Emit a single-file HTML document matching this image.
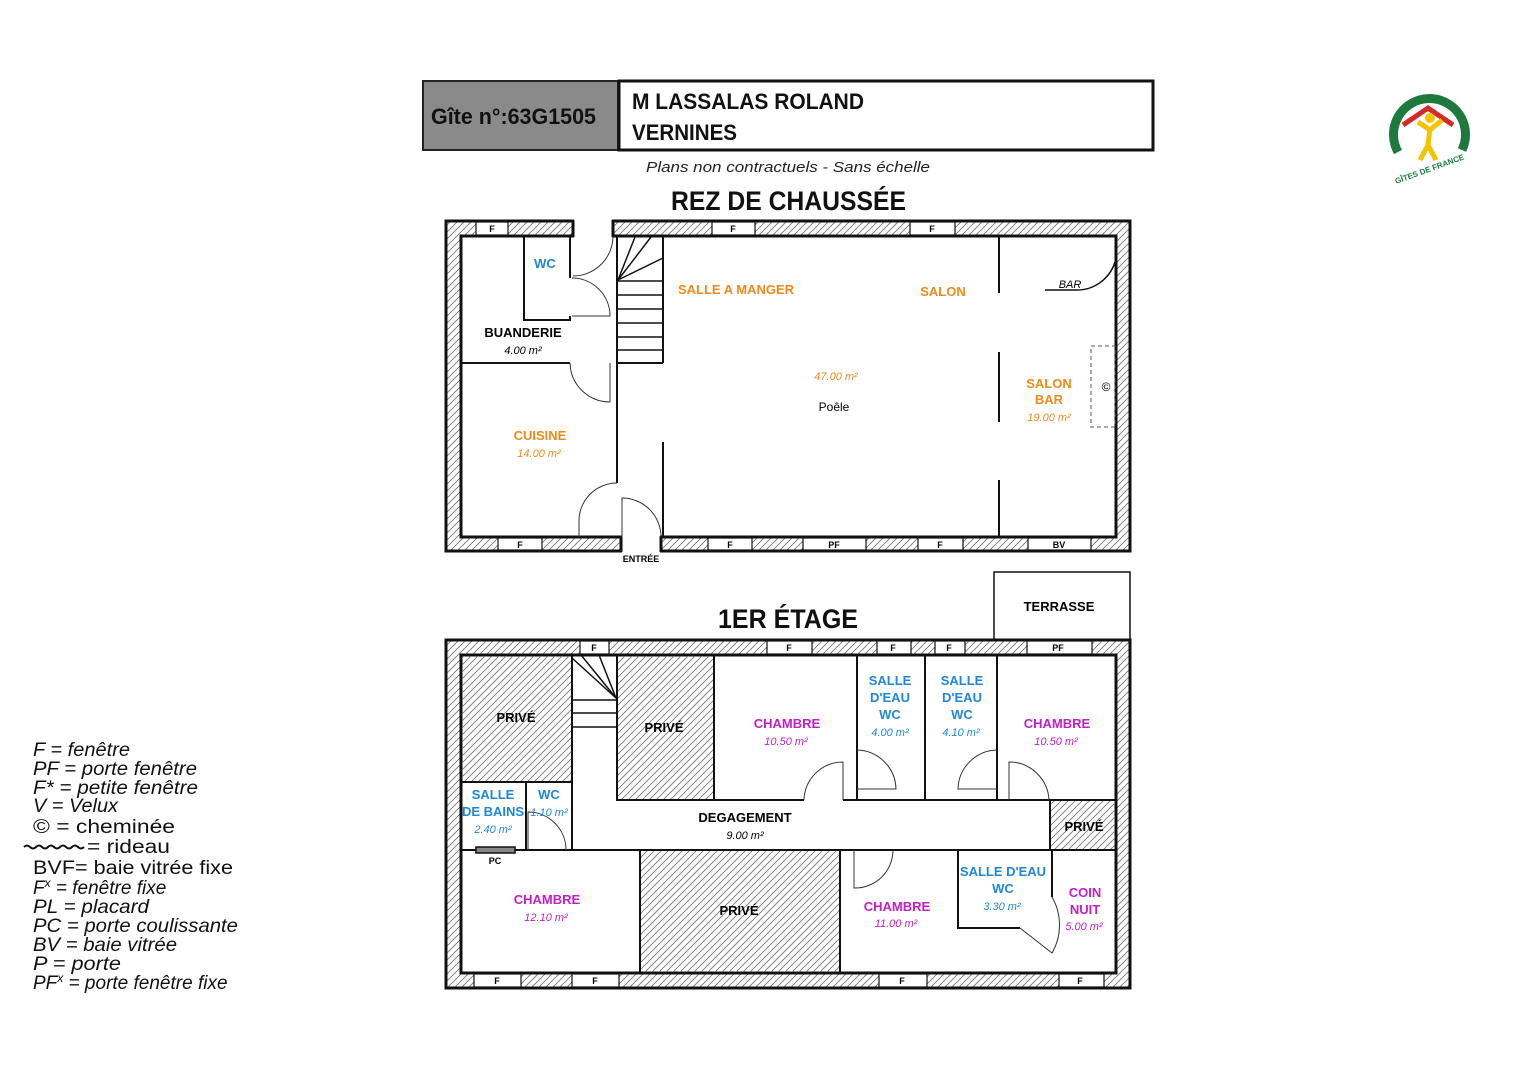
<!DOCTYPE html>
<html><head><meta charset="utf-8"><style>
html,body{margin:0;padding:0;background:#fff;}
svg{display:block;font-family:"Liberation Sans",sans-serif;}
.l{font-weight:bold;font-size:13px;text-anchor:middle;}
.a{font-size:11px;text-anchor:middle;font-style:italic;}
.w{font-size:9px;font-weight:bold;text-anchor:middle;}
.o{fill:#ee8a1c}.b{fill:#1f87d6}.m{fill:#c21fc9}
.ln{stroke:#111;stroke-width:2;fill:none}
.dr{stroke:#333;stroke-width:1;fill:none}
</style></head><body>
<svg width="1528" height="1080" viewBox="0 0 1528 1080" xmlns="http://www.w3.org/2000/svg">
<defs>
<pattern id="h" patternUnits="userSpaceOnUse" width="7" height="7"><path d="M-1,8 L8,-1 M-1,1 L1,-1 M6,8 L8,6" stroke="#777" stroke-width="0.9"/></pattern>
</defs>
<rect width="1528" height="1080" fill="#fff"/>

<!-- header -->
<rect x="423" y="81" width="195" height="69" fill="#8a8a8a" stroke="#222" stroke-width="2"/>
<text x="431" y="124" font-size="22" font-weight="bold" fill="#111" textLength="165" lengthAdjust="spacingAndGlyphs">Gîte n°:63G1505</text>
<rect x="619" y="81" width="534" height="69" fill="#fff" stroke="#111" stroke-width="3"/>
<text x="632" y="109" font-size="22" font-weight="bold" fill="#111" textLength="232" lengthAdjust="spacingAndGlyphs">M LASSALAS ROLAND</text>
<text x="632" y="140" font-size="22" font-weight="bold" fill="#111" textLength="105" lengthAdjust="spacingAndGlyphs">VERNINES</text>
<text x="646" y="172" font-size="15" font-style="italic" fill="#222" textLength="284" lengthAdjust="spacingAndGlyphs">Plans non contractuels - Sans échelle</text>
<text x="671" y="210" font-size="27" font-weight="bold" fill="#111" textLength="235" lengthAdjust="spacingAndGlyphs">REZ DE CHAUSSÉE</text>
<text x="718" y="628" font-size="27" font-weight="bold" fill="#111" textLength="140" lengthAdjust="spacingAndGlyphs">1ER ÉTAGE</text>

<!-- logo -->
<g>
<path d="M1398,152 A36,36 0 1 1 1462,150" stroke="#1d7a3c" stroke-width="9" fill="none"/>
<path d="M1403,125 L1428,108 L1453,125" stroke="#d62a2a" stroke-width="5" fill="none"/>
<circle cx="1430" cy="118" r="5" fill="#f2c400"/>
<path d="M1418,122 L1430,130 L1442,120 M1430,128 L1428,145 L1420,160 M1428,145 L1436,160" stroke="#f2c400" stroke-width="5" fill="none"/>
<text x="1428" y="172" font-size="8" font-weight="bold" fill="#1d7a3c" text-anchor="middle" transform="rotate(-20 1428 165)">GÎTES DE FRANCE</text>
</g>

<!-- ============ REZ DE CHAUSSEE ============ -->
<path d="M446,221 H1130 V551 H446 Z M461,236 V537 H1116 V236 Z" fill="url(#h)" fill-rule="evenodd"/>
<rect x="446" y="221" width="684" height="330" fill="none" stroke="#111" stroke-width="3"/>
<rect x="461" y="236" width="655" height="301" fill="none" stroke="#111" stroke-width="3"/>
<g stroke="#111" stroke-width="1.2" fill="#fff">
<rect x="476" y="222" width="32" height="13"/>
<rect x="712" y="222" width="43" height="13"/>
<rect x="910" y="222" width="45" height="13"/>
<rect x="498" y="538" width="44" height="12"/>
<rect x="708" y="538" width="44" height="12"/>
<rect x="803" y="538" width="63" height="12"/>
<rect x="918" y="538" width="45" height="12"/>
<rect x="1028" y="538" width="63" height="12"/>
</g>
<rect x="574" y="218" width="38" height="20" fill="#fff"/>
<rect x="622" y="535" width="38" height="20" fill="#fff"/>
<g stroke="#111" stroke-width="3">
<line x1="573" y1="220" x2="573" y2="237"/><line x1="613" y1="220" x2="613" y2="237"/>
<line x1="621" y1="536" x2="621" y2="552"/><line x1="661" y1="536" x2="661" y2="552"/>
</g>
<g class="w">
<text x="492" y="232">F</text><text x="733" y="232">F</text><text x="932" y="232">F</text>
<text x="520" y="548">F</text><text x="730" y="548">F</text><text x="834" y="548">PF</text><text x="940" y="548">F</text><text x="1059" y="548">BV</text>
</g>
<text x="641" y="562" font-size="9" font-weight="bold" text-anchor="middle">ENTRÉE</text>

<g class="ln">
<path d="M524,236 V320 H570 V316"/>
<path d="M570,236 V278"/>
<path d="M461,363 H570"/>
<path d="M617,236 V483"/>
<path d="M663,236 V363 M617,363 H663"/>
<path d="M663,442 V537"/>
<path d="M999,236 V293 M999,352 V422 M999,480 V537"/>
<path d="M1045,290 H1075 A40,40 0 0 0 1115,262" stroke-width="1.5"/>
</g>
<g class="dr">
<path d="M613,236 A40,40 0 0 1 573,276"/>
<path d="M572,278 A38,38 0 0 1 610,316 L572,316"/>
<path d="M570,363 A40,40 0 0 0 610,402 L610,363"/>
<path d="M579,537 V522 A38,38 0 0 1 617,483"/>
<path d="M622,537 V498 A39,39 0 0 1 661,537"/>
</g>
<g stroke="#111" stroke-width="1.5">
<line x1="617" y1="281" x2="663" y2="281"/><line x1="617" y1="295" x2="663" y2="295"/>
<line x1="617" y1="309" x2="663" y2="309"/><line x1="617" y1="323" x2="663" y2="323"/>
<line x1="617" y1="337" x2="663" y2="337"/><line x1="617" y1="350" x2="663" y2="350"/>
<line x1="618" y1="280" x2="663" y2="258"/><line x1="618" y1="280" x2="651" y2="237"/><line x1="618" y1="280" x2="635" y2="237"/>
</g>
<rect x="1091" y="346" width="24" height="81" fill="none" stroke="#555" stroke-dasharray="4,3"/>
<text x="1106" y="391" font-size="12" text-anchor="middle">©</text>

<text x="545" y="268" class="l b">WC</text>
<text x="523" y="337" class="l">BUANDERIE</text>
<text x="523" y="354" class="a">4.00 m²</text>
<text x="540" y="440" class="l o">CUISINE</text>
<text x="539" y="457" class="a o">14.00 m²</text>
<text x="736" y="294" class="l o">SALLE A MANGER</text>
<text x="943" y="296" class="l o">SALON</text>
<text x="836" y="380" class="a o">47.00 m²</text>
<text x="834" y="411" font-size="12" text-anchor="middle">Poêle</text>
<text x="1070" y="288" font-size="11" font-style="italic" text-anchor="middle">BAR</text>
<text x="1049" y="388" class="l o">SALON</text>
<text x="1049" y="404" class="l o">BAR</text>
<text x="1049" y="421" class="a o">19.00 m²</text>

<rect x="994" y="572" width="136" height="68" fill="none" stroke="#111" stroke-width="1.5"/>
<text x="1059" y="611" class="l" font-size="12">TERRASSE</text>

<!-- ============ 1ER ETAGE ============ -->
<path d="M446,640 H1130 V988 H446 Z M461,655 V973 H1116 V655 Z" fill="url(#h)" fill-rule="evenodd"/>
<rect x="446" y="640" width="684" height="348" fill="none" stroke="#111" stroke-width="3"/>
<rect x="461" y="655" width="655" height="318" fill="none" stroke="#111" stroke-width="3"/>
<g stroke="#111" stroke-width="1.2" fill="#fff">
<rect x="580" y="641" width="29" height="13"/>
<rect x="767" y="641" width="45" height="13"/>
<rect x="877" y="641" width="34" height="13"/>
<rect x="935" y="641" width="30" height="13"/>
<rect x="1027" y="641" width="65" height="13"/>
<rect x="474" y="974" width="47" height="13"/>
<rect x="572" y="974" width="47" height="13"/>
<rect x="879" y="974" width="48" height="13"/>
<rect x="1059" y="974" width="45" height="13"/>
</g>
<g class="w">
<text x="594" y="651">F</text><text x="789" y="651">F</text><text x="893" y="651">F</text><text x="949" y="651">F</text><text x="1058" y="651">PF</text>
<text x="497" y="984">F</text><text x="595" y="984">F</text><text x="902" y="984">F</text><text x="1080" y="984">F</text>
</g>

<g fill="url(#h)" stroke="#111" stroke-width="2">
<rect x="461" y="655" width="111" height="127"/>
<rect x="617" y="655" width="97" height="145"/>
<rect x="1050" y="800" width="66" height="50"/>
<rect x="640" y="850" width="200" height="123"/>
</g>
<g class="ln">
<path d="M572,655 V727 M572,782 V850"/>
<path d="M461,782 H572"/>
<path d="M526,782 V850"/>
<path d="M461,850 H1116"/>
<path d="M714,800 H804 M843,800 H1050"/>
<path d="M857,655 V800 M925,655 V800 M997,655 V800"/>
<path d="M958,850 V928 H1020"/>
<path d="M1052,850 V897"/>
</g>
<g class="dr">
<path d="M804,800 A39,39 0 0 1 843,762 L843,800"/>
<path d="M857,750 A40,40 0 0 1 896,789 L857,789"/>
<path d="M997,750 A40,40 0 0 0 958,789 L997,789"/>
<path d="M1009,800 V762 A40,40 0 0 1 1049,800"/>
<path d="M854,850 V888 A38,38 0 0 0 893,850"/>
<path d="M1020,928 L1052,953 A56,56 0 0 0 1052,897"/>
<path d="M528,850 V812 A38,38 0 0 1 566,850"/>
</g>
<g stroke="#111" stroke-width="1.5">
<line x1="572" y1="700" x2="617" y2="700"/><line x1="572" y1="713" x2="617" y2="713"/><line x1="572" y1="727" x2="617" y2="727"/>
<line x1="616" y1="698" x2="572" y2="658"/><line x1="616" y1="698" x2="581" y2="655"/><line x1="616" y1="698" x2="599" y2="655"/>
</g>
<rect x="476" y="847" width="39" height="6" fill="#888" stroke="#111" stroke-width="1.5"/>
<text x="495" y="864" font-size="9" font-weight="bold" text-anchor="middle">PC</text>

<text x="516" y="722" class="l" font-size="12">PRIVÉ</text>
<text x="664" y="732" class="l" font-size="12">PRIVÉ</text>
<text x="1084" y="831" class="l" font-size="12">PRIVÉ</text>
<text x="739" y="915" class="l" font-size="12">PRIVÉ</text>
<text x="787" y="728" class="l m">CHAMBRE</text>
<text x="786" y="745" class="a m">10.50 m²</text>
<text x="890" y="685" class="l b">SALLE</text>
<text x="890" y="702" class="l b">D'EAU</text>
<text x="890" y="719" class="l b">WC</text>
<text x="890" y="736" class="a b">4.00 m²</text>
<text x="962" y="685" class="l b">SALLE</text>
<text x="962" y="702" class="l b">D'EAU</text>
<text x="962" y="719" class="l b">WC</text>
<text x="961" y="736" class="a b">4.10 m²</text>
<text x="1057" y="728" class="l m">CHAMBRE</text>
<text x="1056" y="745" class="a m">10.50 m²</text>
<text x="493" y="799" class="l b">SALLE</text>
<text x="493" y="816" class="l b">DE BAINS</text>
<text x="493" y="833" class="a b">2.40 m²</text>
<text x="549" y="799" class="l b">WC</text>
<text x="549" y="816" class="a b">1.10 m²</text>
<text x="745" y="822" class="l">DEGAGEMENT</text>
<text x="745" y="839" class="a">9.00 m²</text>
<text x="547" y="904" class="l m">CHAMBRE</text>
<text x="546" y="921" class="a m">12.10 m²</text>
<text x="897" y="911" class="l m">CHAMBRE</text>
<text x="896" y="927" class="a m">11.00 m²</text>
<text x="1003" y="876" class="l b">SALLE D'EAU</text>
<text x="1003" y="893" class="l b">WC</text>
<text x="1002" y="910" class="a b">3.30 m²</text>
<text x="1085" y="897" class="l m">COIN</text>
<text x="1085" y="914" class="l m">NUIT</text>
<text x="1084" y="930" class="a m">5.00 m²</text>

<!-- legend -->
<g font-size="19" font-style="italic" fill="#111">
<text x="33" y="756" textLength="97" lengthAdjust="spacingAndGlyphs">F = fenêtre</text>
<text x="33" y="775" textLength="164" lengthAdjust="spacingAndGlyphs">PF = porte fenêtre</text>
<text x="33" y="794" textLength="165" lengthAdjust="spacingAndGlyphs">F* = petite fenêtre</text>
<text x="33" y="812" textLength="85" lengthAdjust="spacingAndGlyphs">V = Velux</text>
<text x="33" y="833" font-style="normal" textLength="142" lengthAdjust="spacingAndGlyphs">© = cheminée</text>
<text x="87" y="853" font-style="normal" textLength="83" lengthAdjust="spacingAndGlyphs">= rideau</text>
<text x="33" y="874" font-style="normal" textLength="200" lengthAdjust="spacingAndGlyphs">BVF= baie vitrée fixe</text>
<text x="33" y="894">F<tspan font-size="12" dy="-7">x</tspan><tspan dy="7"> = fenêtre fixe</tspan></text>
<text x="33" y="913" textLength="116" lengthAdjust="spacingAndGlyphs">PL = placard</text>
<text x="33" y="932" textLength="205" lengthAdjust="spacingAndGlyphs">PC = porte coulissante</text>
<text x="33" y="951" textLength="144" lengthAdjust="spacingAndGlyphs">BV = baie vitrée</text>
<text x="33" y="970" textLength="88" lengthAdjust="spacingAndGlyphs">P = porte</text>
<text x="33" y="989">PF<tspan font-size="12" dy="-7">x</tspan><tspan dy="7"> = porte fenêtre fixe</tspan></text>
</g>
<path d="M24,847 q3,-3 6,0 t6,0 t6,0 t6,0 t6,0 t6,0 t6,0 t6,0 t6,0 t6,0" stroke="#111" stroke-width="2" fill="none"/>
</svg>
</body></html>
